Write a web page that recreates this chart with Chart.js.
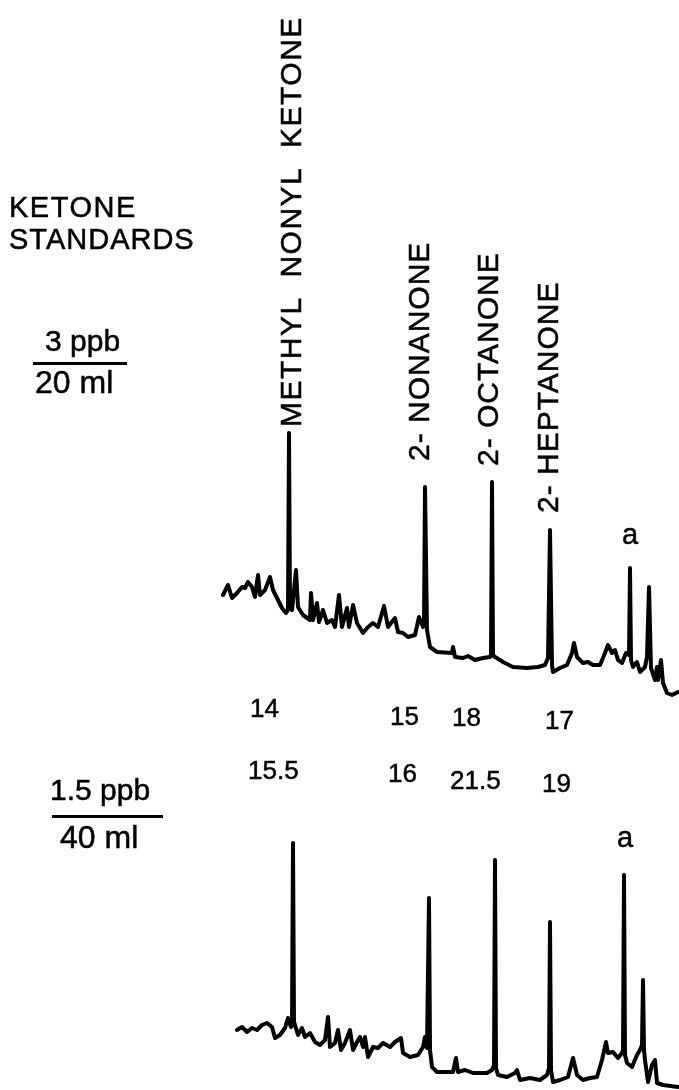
<!DOCTYPE html>
<html>
<head>
<meta charset="utf-8">
<title>Ketone standards</title>
<script src="https://cdn.jsdelivr.net/npm/chart.js"></script>
<style>
  html, body { margin: 0; padding: 0; background: #fff; }
  #wrap { position: relative; width: 679px; height: 1090px; overflow: hidden; }
  #chrom { position: absolute; left: 0; top: 0; }
  .lbl { position: absolute; white-space: nowrap; color: #000; font-family: "Liberation Sans", Arial, sans-serif; -webkit-text-stroke: 0.5px #000; }
  .rot { transform-origin: 0 0; transform: rotate(-90deg); }
  .bar { position: absolute; background: #000; height: 2.5px; }
</style>
</head>
<body>
<div id="wrap">
  <canvas id="chrom" width="679" height="1090"></canvas>
</div>
<script>
// retention (min, runs right to left) and detector response for the 3 ppb / 20 ml run
const upperTime = [
  45.6, 45.1, 44.7, 44.2, 43.7, 43.4, 43.1, 42.7, 42.4, 42.1,
  41.9, 41.4, 40.9, 40.6, 40.2, 39.7, 39.3,
  39.1, 39.0, 38.9,
  38.7, 38.3, 38.1, 37.6, 36.9, 36.8, 36.6, 36.2, 36.0, 35.6,
  35.2, 34.7, 34.4, 34.0, 33.7, 33.2, 33.0, 32.6, 32.2, 31.6,
  31.1, 30.6, 30.1, 29.5, 29.1, 28.4, 28.1, 27.6, 27.1, 26.4,
  26.0, 25.6, 25.5, 25.4, 25.2, 24.9, 24.2, 22.7, 22.6, 22.4,
  21.6, 21.1, 20.4, 19.6, 18.9, 18.8, 18.7, 18.6, 18.4, 17.9,
  17.6, 16.6, 15.2, 14.1, 13.4, 13.1, 12.9, 12.7, 12.6, 11.9,
  11.2, 10.7, 10.5, 10.2, 9.6, 9.1, 8.6, 7.9, 7.4, 7.1,
  6.7, 6.4, 6.1, 5.7, 5.3, 5.0, 4.9, 4.8, 4.6, 4.2,
  3.9, 3.4, 3.2, 3.0, 2.8, 2.4, 2.2, 2.1, 1.8, 1.6,
  1.2, 0.7, 0.1
];
const upperSignal = [
  52.5, 57.5, 51, 53.5, 56.5, 56, 59, 56.5, 51.5, 62.5,
  52.5, 55, 61.5, 55, 51, 46, 43.5,
  45, 133.5, 46,
  45, 65, 46.5, 42.5, 40, 53.5, 40, 48.5, 39, 45,
  38.5, 40, 36.5, 52.5, 36.5, 46, 36.5, 47.5, 38.5, 33.5,
  36.5, 38.5, 36.5, 47, 36.5, 41, 34, 33.5, 31.5, 32.5,
  41.5, 36.5, 37.5, 106.5, 35, 26.5, 24, 23.5, 26.5, 21.5,
  21, 22, 20, 21, 21.5, 22.5, 109, 22.5, 21.5, 20,
  19, 16.5, 16, 16.5, 17.5, 21, 85, 17.5, 14, 16,
  17.5, 23.5, 28.5, 21.5, 18.5, 19, 17.5, 17.5, 23.5, 27.5,
  23.5, 25, 20, 18.5, 23.5, 22.5, 66, 20, 16.5, 19,
  14, 16.5, 21.5, 56.5, 16, 10, 16.5, 10, 20, 8.5,
  3.5, 2.5, 4
];

// same standards at 1.5 ppb / 40 ml
const lowerTime = [
  44.2, 43.7, 43.2, 42.7, 42.2, 41.7, 41.2, 40.7, 40.4, 39.9,
  39.4, 39.1, 38.8, 38.7, 38.6, 38.5, 38.4, 38.1, 37.7, 37.4,
  36.9, 36.4, 35.9, 35.4, 35.1, 34.9, 34.4, 34.1, 33.8, 33.4,
  32.9, 32.6, 32.2, 31.9, 31.6, 31.4, 31.1, 30.6, 30.1, 29.6,
  28.9, 28.4, 27.8, 27.6, 26.9, 26.1, 25.6, 25.4, 25.2, 25.0,
  24.9, 24.7, 24.2, 23.2, 22.6, 22.3, 22.1, 21.4, 20.6, 19.2,
  18.7, 18.5, 18.4, 18.3, 18.1, 17.2, 16.4, 16.2, 15.9, 14.9,
  13.9, 13.2, 13.0, 12.9, 12.8, 12.6, 11.9, 11.1, 10.6, 10.2,
  9.6, 8.9, 8.2, 7.7, 7.3, 7.1, 6.6, 6.1, 5.7, 5.6,
  5.5, 5.4, 5.2, 4.7, 4.2, 3.9, 3.7, 3.6, 3.5, 3.4,
  3.1, 2.7, 2.4, 2.2, 1.6, 0.1
];
const lowerSignal = [
  30, 31.5, 29, 31, 30, 32.5, 33.5, 31.5, 26, 27.5,
  31, 36, 31.5, 32.5, 123.5, 34, 32.5, 27.5, 31, 26.5,
  28.5, 24, 22.5, 25, 36.5, 21.5, 23.5, 30, 20, 23.5,
  30, 20, 24, 26.5, 21.5, 26.5, 16.5, 21.5, 21, 23.5,
  21.5, 24, 26, 18.5, 16.5, 17.5, 21.5, 26.5, 21, 96,
  20, 11.5, 9, 9, 9, 16, 9, 10, 8.5, 8.5,
  10, 12.5, 115, 11, 7.5, 6.5, 8.5, 10, 5, 6,
  5, 7.5, 11, 84, 10, 4, 5, 6.5, 16, 7.5,
  5, 6, 6.5, 15, 24, 18.5, 19, 16, 18.5, 20,
  107.5, 17.5, 13.5, 11.5, 17.5, 20, 22.5, 55, 20, 15,
  4, 12.5, 15, 3.5, 2.5, 1.5
];

const peakNames = ['METHYL NONYL KETONE', '2- NONANONE', '2- OCTANONE', '2- HEPTANONE'];
const upperNumbers = ['14', '15', '18', '17'];
const lowerNumbers = ['15.5', '16', '21.5', '19'];

function toPoints(xs, ys) {
  return xs.map(function (x, i) { return { x: x, y: ys[i] }; });
}

function traceStyle(axis) {
  return {
    borderColor: '#000',
    borderWidth: 4,
    pointRadius: 0,
    tension: 0,
    fill: false,
    clip: false,
    borderJoinStyle: 'round',
    borderCapStyle: 'round',
    yAxisID: axis
  };
}

const ctx = document.getElementById('chrom').getContext('2d');
new Chart(ctx, {
  type: 'line',
  data: {
    datasets: [
      Object.assign({ label: '3 ppb / 20 ml', data: toPoints(upperTime, upperSignal) }, traceStyle('yTop')),
      Object.assign({ label: '1.5 ppb / 40 ml', data: toPoints(lowerTime, lowerSignal) }, traceStyle('yBot'))
    ]
  },
  options: {
    responsive: false,
    animation: false,
    devicePixelRatio: 1,
    events: [],
    layout: { padding: 0 },
    plugins: { legend: { display: false }, tooltip: { enabled: false } },
    scales: {
      x: { type: 'linear', reverse: true, min: 0, max: 67.9, display: false },
      yTop: { type: 'linear', min: -195, max: 350, display: false },
      yBot: { type: 'linear', min: 0, max: 545, display: false }
    }
  }
});

// text labels
const wrap = document.getElementById('wrap');

function addText(txt, x, baseline, size, extra) {
  const d = document.createElement('div');
  d.className = 'lbl';
  d.textContent = txt;
  d.style.left = x + 'px';
  d.style.top = (baseline - 0.8465 * size) + 'px';
  d.style.fontSize = size + 'px';
  d.style.lineHeight = size + 'px';
  if (extra) Object.assign(d.style, extra);
  wrap.appendChild(d);
  return d;
}

function addRotated(txt, left, bottom, size, extra) {
  const d = document.createElement('div');
  d.className = 'lbl rot';
  d.textContent = txt;
  d.style.left = left + 'px';
  d.style.top = bottom + 'px';
  d.style.fontSize = size + 'px';
  d.style.lineHeight = size + 'px';
  if (extra) Object.assign(d.style, extra);
  wrap.appendChild(d);
}

function addBar(x, y, w) {
  const b = document.createElement('div');
  b.className = 'bar';
  b.style.left = x + 'px';
  b.style.top = y + 'px';
  b.style.width = w + 'px';
  wrap.appendChild(b);
}

addText('KETONE', 9, 218, 29, { letterSpacing: '1.5px' });
addText('STANDARDS', 9, 250, 29, { letterSpacing: '1px' });

addText('3 ppb', 45, 351, 30);
addBar(33, 362, 94);
addText('20 ml', 35, 393, 32);

addText('1.5 ppb', 50, 800, 30);
addBar(52, 815, 111);
addText('40 ml', 60, 848, 32);

addRotated(peakNames[0], 276, 427, 30, { letterSpacing: '1.5px', wordSpacing: '10px' });
addRotated(peakNames[1], 404, 461, 30, { letterSpacing: '1px' });
addRotated(peakNames[2], 473, 466, 30, { letterSpacing: '1px' });
addRotated(peakNames[3], 533, 513, 30, { letterSpacing: '1px' });

const upperNumX = [250, 390, 452, 545];
const upperNumBase = [717, 725, 726, 729];
const lowerNumX = [248, 388, 450, 542];
const lowerNumBase = [779, 782, 789, 792];
upperNumbers.forEach(function (n, i) { addText(n, upperNumX[i], upperNumBase[i], 26); });
lowerNumbers.forEach(function (n, i) { addText(n, lowerNumX[i], lowerNumBase[i], 26); });

addText('a', 622, 545, 29);
addText('a', 617, 848, 29);
</script>
</body>
</html>
